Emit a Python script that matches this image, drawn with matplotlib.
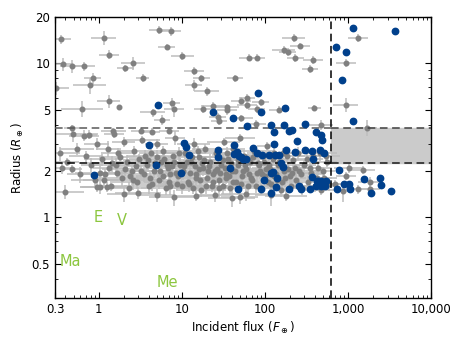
import numpy as np
import matplotlib.pyplot as plt
import matplotlib.ticker as ticker

# planets / candidates without follow-up (grey, with error bars) - upper sparse part
hi_flux = [0.35, 1.15, 5.3, 7.4, 6.6, 1.32, 10.2, 0.37, 0.48, 0.66,
           2.6, 2.1, 3.4, 0.85, 0.78, 13.9, 17.3, 13.9, 0.31, 1.32,
           1.78, 0.63, 7.6, 8.0, 4.5, 5.8, 18.3, 0.48, 1.5, 3.2,
           4.4, 7.0, 222, 267, 169, 188, 233, 385, 350, 65,
           80, 44, 20, 61, 52, 89, 61, 24, 35, 80,
           147, 395, 35, 27, 28, 52, 78, 475, 1320, 940,
           940, 1700]
hi_radius = [14.3, 14.7, 16.5, 16.2, 12.8, 11.4, 11.2, 9.9, 9.6, 9.6,
             10.0, 9.3, 8.0, 8.0, 7.2, 8.9, 8.0, 7.2, 6.9, 5.7,
             5.2, 5.07, 5.5, 5.07, 4.8, 4.3, 5.07, 3.78, 3.65, 3.65,
             3.6, 3.65, 14.7, 13.0, 12.3, 11.8, 10.8, 10.5, 9.2, 10.9,
             10.9, 8.0, 6.6, 6.0, 5.7, 5.6, 5.4, 5.3, 5.2, 5.07,
             5.0, 5.15, 4.95, 4.5, 4.2, 4.4, 4.07, 4.0, 14.7, 10.1,
             5.4, 3.83]
hi_dflux = [0.12, 0.15, 0.12, 0.12, 0.1, 0.12, 0.14, 0.12, 0.15, 0.14,
            0.14, 0.1, 0.08, 0.1, 0.2, 0.12, 0.1, 0.1, 0.15, 0.14,
            0.0, 0.25, 0.1, 0.12, 0.15, 0.1, 0.12, 0.1, 0.15, 0.12,
            0.1, 0.12, 0.14, 0.12, 0.14, 0.1, 0.1, 0.12, 0.1, 0.12,
            0.1, 0.1, 0.15, 0.1, 0.12, 0.1, 0.12, 0.15, 0.14, 0.1,
            0.12, 0.08, 0.12, 0.1, 0.1, 0.14, 0.12, 0.14, 0.12, 0.12,
            0.15, 0.12]
hi_drad = [0.07, 0.1, 0.06, 0.07, 0.05, 0.07, 0.06, 0.1, 0.1, 0.07,
           0.1, 0.05, 0.06, 0.08, 0.12, 0.06, 0.05, 0.08, 0.1, 0.1,
           0.0, 0.12, 0.08, 0.12, 0.06, 0.08, 0.06, 0.05, 0.05, 0.05,
           0.05, 0.05, 0.06, 0.05, 0.06, 0.06, 0.06, 0.06, 0.06, 0.05,
           0.05, 0.05, 0.07, 0.05, 0.06, 0.05, 0.06, 0.06, 0.05, 0.06,
           0.05, 0.05, 0.06, 0.06, 0.05, 0.05, 0.06, 0.08, 0.06, 0.06,
           0.1, 0.12]

# dense band of small planets (grey)
band_flux = [0.36, 0.40, 0.48, 0.49, 0.66, 0.76, 0.34, 0.42, 0.55, 0.6,
             0.7, 0.82, 0.9, 0.95,
             1.1, 1.2, 1.3, 1.4, 1.55, 1.6, 1.7, 1.9, 2.0, 2.2,
             2.3, 2.5, 2.7, 2.9, 3.1, 3.3, 3.5, 3.8, 4.0, 4.3,
             4.6, 5.0, 5.3, 5.7, 6.0, 6.4, 6.8, 7.3, 7.8, 8.3,
             8.8, 9.5,
             10.5, 11, 12, 13, 14, 15, 16, 17, 18, 19,
             20, 22, 23, 25, 26, 28, 30, 32, 34, 36,
             38, 40, 42, 45, 48, 50, 53, 56, 60, 63,
             67, 70, 75, 80, 85, 90, 95,
             100, 105, 110, 118, 125, 135, 145, 155, 165, 175,
             190, 205, 220, 240, 260, 280, 300, 330, 360, 400,
             440, 480, 520, 560, 600,
             1.05, 1.35, 1.8, 2.4, 2.8, 3.6, 4.2, 4.8, 5.5, 6.2,
             7.0, 7.6, 8.5, 9.2, 10, 11.5, 12.5, 13.5, 14.5, 15.5,
             16.5, 18.5, 21, 24, 27, 29, 31, 33, 35, 37,
             39, 44, 46, 52, 58, 65, 72, 78, 88, 98,
             108, 115, 130, 140, 150, 170, 185, 200, 230, 250,
             270, 320, 350, 380, 420, 460, 500, 550,
             0.95, 1.05, 1.27, 2.0, 3.0, 5.0, 8.0, 15, 25, 40,
             50, 60, 120, 180,
             1030, 1510, 940, 1850, 1850, 880, 690, 1320]
band_radius = [2.09, 1.47, 2.06, 3.5, 3.4, 3.45, 2.6, 2.3, 2.8, 1.9,
               2.5, 2.2, 1.75, 3.0,
               2.4, 1.9, 2.8, 1.6, 3.5, 2.2, 2.6, 1.8, 3.1, 2.3,
               1.55, 2.0, 2.7, 1.7, 2.4, 3.2, 1.9, 2.2, 1.6, 2.6,
               2.0, 3.0, 1.75, 2.3, 2.7, 1.55, 2.1, 1.9, 2.5, 3.3,
               1.65, 2.2,
               2.0, 2.6, 1.7, 2.3, 3.0, 1.9, 2.45, 1.5, 2.1, 2.8,
               1.8, 2.3, 1.6, 2.0, 2.6, 1.75, 2.2, 3.1, 1.9, 2.4,
               1.55, 2.0, 2.8, 1.7, 2.2, 3.3, 1.85, 2.5, 2.05, 1.6,
               2.3, 1.75, 2.7, 1.95, 2.2, 1.55, 2.5,
               1.85, 2.9, 2.1, 1.65, 2.4, 1.9, 2.2, 1.5, 2.6, 1.8,
               2.05, 1.6, 2.35, 1.75, 2.0, 1.55, 2.2, 1.7, 1.95, 1.6,
               2.1, 1.5, 1.8, 2.3, 1.65,
               1.95, 2.1, 2.45, 1.85, 2.15, 2.5, 1.8, 2.25, 2.0, 2.4,
               1.7, 2.15, 1.95, 2.6, 1.6, 2.3, 1.95, 1.55, 2.15, 2.7,
               1.75, 2.35, 2.0, 1.7, 2.45, 1.95, 1.6, 2.1, 2.6, 1.85,
               2.25, 2.0, 2.55, 1.65, 2.2, 1.9, 2.45, 1.6, 2.0, 2.3,
               1.7, 2.05, 2.6, 1.75, 2.3, 2.0, 2.5, 1.85, 2.1, 2.6,
               1.9, 2.4, 2.1, 2.5, 1.8, 2.6, 2.0, 2.5,
               1.58, 1.58, 1.58, 1.42, 1.45, 1.4, 1.35, 1.38, 1.4, 1.33,
               1.35, 1.42, 1.4, 1.38,
               2.1, 2.03, 1.86, 1.70, 1.52, 1.49, 1.65, 1.52]
band_dflux = [0.15, 0.22, 0.12, 0.3, 0.18, 0.1, 0.25, 0.14, 0.2, 0.16,
              0.2, 0.12, 0.28, 0.15,
              0.22, 0.3, 0.15, 0.2, 0.12, 0.25, 0.18, 0.3, 0.14, 0.2,
              0.26, 0.16, 0.2, 0.3, 0.12, 0.22, 0.18, 0.25, 0.3, 0.15,
              0.2, 0.14, 0.28, 0.2, 0.16, 0.3, 0.22, 0.18, 0.25, 0.12,
              0.2, 0.3,
              0.18, 0.25, 0.3, 0.14, 0.2, 0.26, 0.12, 0.3, 0.22, 0.16,
              0.28, 0.2, 0.15, 0.3, 0.18, 0.24, 0.12, 0.2, 0.3, 0.16,
              0.22, 0.28, 0.14, 0.2, 0.3, 0.18, 0.25, 0.12, 0.22, 0.3,
              0.16, 0.2, 0.25, 0.3, 0.14, 0.22, 0.18,
              0.25, 0.12, 0.2, 0.3, 0.16, 0.22, 0.28, 0.14, 0.2, 0.25,
              0.18, 0.3, 0.15, 0.22, 0.2, 0.26, 0.14, 0.2, 0.18, 0.24,
              0.16, 0.2, 0.15, 0.12, 0.18,
              0.3, 0.2, 0.25, 0.16, 0.3, 0.22, 0.18, 0.28, 0.14, 0.2,
              0.3, 0.24, 0.16, 0.2, 0.28, 0.18, 0.3, 0.22, 0.15, 0.25,
              0.2, 0.3, 0.16, 0.24, 0.2, 0.3, 0.18, 0.22, 0.14, 0.28,
              0.2, 0.25, 0.3, 0.16, 0.22, 0.2, 0.28, 0.15, 0.3, 0.2,
              0.24, 0.18, 0.3, 0.2, 0.16, 0.25, 0.22, 0.3, 0.18, 0.2,
              0.26, 0.2, 0.15, 0.22, 0.18, 0.2, 0.14, 0.16,
              0.2, 0.25, 0.3, 0.2, 0.28, 0.22, 0.3, 0.25, 0.2, 0.28,
              0.22, 0.3, 0.2, 0.25,
              0.18, 0.15, 0.12, 0.15, 0.12, 0.1, 0.12, 0.14]
band_drad = [0.08, 0.1, 0.06, 0.12, 0.08, 0.07, 0.1, 0.06, 0.09, 0.12,
             0.08, 0.1, 0.07, 0.09,
             0.1, 0.08, 0.12, 0.07, 0.06, 0.1, 0.08, 0.12, 0.07, 0.1,
             0.09, 0.12, 0.08, 0.1, 0.07, 0.06, 0.11, 0.08, 0.12, 0.07,
             0.1, 0.08, 0.12, 0.09, 0.07, 0.1, 0.12, 0.08, 0.06, 0.1,
             0.09, 0.11,
             0.12, 0.08, 0.1, 0.07, 0.09, 0.12, 0.08, 0.1, 0.11, 0.07,
             0.09, 0.12, 0.08, 0.1, 0.07, 0.11, 0.09, 0.06, 0.12, 0.08,
             0.1, 0.09, 0.07, 0.12, 0.08, 0.06, 0.1, 0.09, 0.12, 0.08,
             0.1, 0.07, 0.09, 0.12, 0.08, 0.1, 0.07,
             0.09, 0.06, 0.12, 0.08, 0.1, 0.07, 0.11, 0.09, 0.08, 0.12,
             0.1, 0.07, 0.09, 0.12, 0.08, 0.1, 0.07, 0.09, 0.12, 0.08,
             0.1, 0.07, 0.09, 0.08, 0.1,
             0.1, 0.08, 0.12, 0.07, 0.09, 0.1, 0.12, 0.08, 0.1, 0.07,
             0.12, 0.09, 0.08, 0.1, 0.12, 0.07, 0.1, 0.09, 0.12, 0.08,
             0.1, 0.07, 0.12, 0.09, 0.08, 0.1, 0.12, 0.07, 0.1, 0.09,
             0.08, 0.12, 0.1, 0.07, 0.09, 0.12, 0.08, 0.1, 0.11, 0.07,
             0.09, 0.12, 0.08, 0.1, 0.07, 0.11, 0.09, 0.12, 0.08, 0.1,
             0.07, 0.1, 0.09, 0.08, 0.12, 0.1, 0.07, 0.09,
             0.08, 0.1, 0.07, 0.12, 0.09, 0.1, 0.12, 0.08, 0.1, 0.12,
             0.09, 0.1, 0.15, 0.08,
             0.07, 0.06, 0.06, 0.07, 0.06, 0.15, 0.06, 0.07]

# more of the crowded middle of the band
fill_flux = [1.15, 1.45, 1.65, 2.1, 2.6, 3.2, 3.9, 4.4, 5.1, 5.9,
             6.6, 7.2, 8.1, 9.0, 10.8, 12.2, 13.2, 14.8, 16.2, 17.5,
             19.5, 21.5, 23.5, 26.5, 28.5, 31.5, 34.5, 37.5, 41, 47,
             54, 62, 69, 83, 93, 102, 112, 128, 160, 210]
fill_radius = [1.75, 2.25, 1.95, 2.05, 1.75, 2.0, 2.35, 1.65, 2.45, 1.85,
               2.2, 1.6, 2.3, 1.85, 2.15, 1.65, 2.45, 1.8, 2.05, 2.25,
               1.6, 2.15, 1.9, 2.05, 1.55, 2.35, 1.8, 2.1, 1.7, 2.35,
               2.0, 2.4, 1.8, 2.25, 1.9, 2.05, 2.2, 1.85, 1.7, 1.95]
fill_dflux = [0.25, 0.3, 0.2, 0.28, 0.35, 0.22, 0.3, 0.25, 0.2, 0.32,
              0.28, 0.22, 0.3, 0.25, 0.35, 0.2, 0.28, 0.3, 0.24, 0.2,
              0.3, 0.25, 0.35, 0.22, 0.28, 0.3, 0.2, 0.26, 0.32, 0.24,
              0.3, 0.22, 0.28, 0.25, 0.2, 0.3, 0.24, 0.28, 0.22, 0.26]
fill_drad = [0.1, 0.12, 0.08, 0.1, 0.14, 0.09, 0.11, 0.1, 0.12, 0.08,
             0.1, 0.13, 0.09, 0.11, 0.1, 0.12, 0.08, 0.1, 0.13, 0.09,
             0.11, 0.1, 0.12, 0.08, 0.14, 0.1, 0.09, 0.12, 0.1, 0.08,
             0.11, 0.1, 0.12, 0.09, 0.1, 0.13, 0.08, 0.1, 0.12, 0.09]

# planets with precise host-star characterisation (blue)
blue_flux = [5.2, 24, 82, 89, 173, 41, 118, 169, 305, 61,
             128, 210, 415, 1150, 3700, 720, 940, 850, 1150, 490,
             475, 460, 520, 780, 1550, 2450, 2530, 1900, 3300, 740,
             900, 1030, 1060, 441, 475, 550, 475, 530, 194, 245,
             10.8, 11.4, 12.1, 27, 43, 46, 49, 52, 55, 60,
             43, 72, 80, 92, 112, 131, 150, 128, 182, 233,
             305, 365, 385, 155, 165, 38, 118, 125, 140, 97,
             47, 89, 118, 137, 194, 255, 270, 372, 350, 415,
             425, 0.87, 4.0, 4.9, 9.7, 27]
blue_radius = [5.4, 4.8, 6.4, 4.85, 5.15, 4.45, 4.0, 4.0, 4.07, 3.9,
               3.56, 3.7, 3.56, 17.1, 16.2, 12.8, 11.8, 7.8, 4.2, 3.16,
               3.44, 2.73, 2.6, 2.03, 1.77, 1.80, 1.63, 1.45, 1.49, 1.52,
               1.65, 1.65, 1.52, 1.72, 1.72, 1.72, 1.59, 1.59, 3.65, 3.15,
               3.03, 2.85, 2.55, 2.73, 2.94, 2.67, 2.5, 2.47, 2.39, 2.39,
               2.58, 2.81, 2.61, 2.55, 2.55, 2.55, 2.55, 2.99, 2.73, 2.65,
               2.73, 2.70, 2.39, 2.25, 2.12, 2.09, 1.94, 1.98, 1.80, 1.75,
               1.53, 1.53, 1.45, 1.58, 1.52, 1.61, 1.53, 1.83, 1.53, 1.59,
               1.72, 1.89, 2.94, 2.2, 1.94, 2.47]

# solar system planets
ss_names = ['Me', 'V', 'E', 'Ma']
ss_flux = [6.7, 1.9, 1.0, 0.46]
ss_radius = [0.38, 0.95, 1.0, 0.52]

# cuts used in the figure
flux_cut = 620
r_low, r_high = 2.25, 3.8


def xerr_log(vals, dex):
    v = np.array(vals, dtype=float)
    d = np.array(dex, dtype=float)
    return [v - v / 10**d, v * 10**d - v]


plt.rcParams['font.family'] = 'DejaVu Sans'
plt.rcParams['mathtext.fontset'] = 'dejavusans'

fig = plt.figure(figsize=(4.63, 3.48), dpi=100)
ax = fig.add_axes([0.119, 0.144, 0.812, 0.807])

ecol = '#bdbdbd'
gcol = '#808080'

groups = [(hi_flux, hi_radius, hi_dflux, hi_drad),
          (band_flux, band_radius, band_dflux, band_drad),
          (fill_flux, fill_radius, fill_dflux, fill_drad)]
# error bars first, then the grey dots on top of all of them
for fx, rr, dfx, drr in groups:
    ax.errorbar(fx, rr, xerr=xerr_log(fx, dfx),
                yerr=np.array(rr) * np.array(drr),
                fmt='none', ecolor=ecol, elinewidth=1.1, capsize=0, zorder=2)
for fx, rr, dfx, drr in groups:
    ax.plot(fx, rr, 'o', ms=3.3, color=gcol, mec=gcol, zorder=2.5)

ax.plot(blue_flux, blue_radius, 'o', ms=4.6, color='#00408c', mec='#00408c', zorder=4)

# threshold lines and shaded box
ax.axvline(flux_cut, color='k', lw=1.1, dashes=(5, 3), zorder=3)
ax.plot([0.3, flux_cut], [r_high, r_high], color='0.35', lw=1.1, dashes=(5, 3), zorder=3)
ax.plot([0.3, flux_cut], [r_low, r_low], color='k', lw=1.1, dashes=(5, 3), zorder=3)
ax.fill_between([flux_cut, 1e4], r_low, r_high, color='#cbcbcb', zorder=1)
ax.plot([flux_cut, 1e4], [r_high, r_high], color='0.25', lw=1.1, dashes=(5, 3), zorder=3)
ax.plot([flux_cut, 1e4], [r_low, r_low], color='0.1', lw=1.1, dashes=(5, 3), zorder=3)

for name, fx, rr in zip(ss_names, ss_flux, ss_radius):
    ax.text(fx, rr, name, color='#8cc63f', fontsize=10.5, ha='center', va='center', zorder=5)

ax.set_xscale('log')
ax.set_yscale('log')
ax.set_xlim(0.3, 1e4)
ax.set_ylim(0.3, 20)

ax.xaxis.set_major_locator(ticker.FixedLocator([0.3, 1, 10, 100, 1000, 10000]))
ax.xaxis.set_major_formatter(ticker.FixedFormatter(['0.3', '1', '10', '100', '1,000', '10,000']))
ax.xaxis.set_minor_locator(ticker.LogLocator(base=10, subs=np.arange(2, 10)))
ax.xaxis.set_minor_formatter(ticker.NullFormatter())
ax.yaxis.set_major_locator(ticker.FixedLocator([0.5, 1, 2, 5, 10, 20]))
ax.yaxis.set_major_formatter(ticker.FixedFormatter(['0.5', '1', '2', '5', '10', '20']))
ax.yaxis.set_minor_locator(ticker.LogLocator(base=10, subs=np.arange(2, 10)))
ax.yaxis.set_minor_formatter(ticker.NullFormatter())

ax.tick_params(which='both', direction='in', top=True, right=True, labelsize=8.5)
ax.tick_params(which='major', length=4, width=0.8)
ax.tick_params(which='minor', length=2, width=0.6)
for s in ax.spines.values():
    s.set_linewidth(1.0)

ax.set_xlabel(r'Incident flux ($F_\oplus$)', fontsize=8.5, labelpad=3)
ax.set_ylabel(r'Radius ($R_\oplus$)', fontsize=8.5, labelpad=4)

fig.savefig('out.png', dpi=100)
